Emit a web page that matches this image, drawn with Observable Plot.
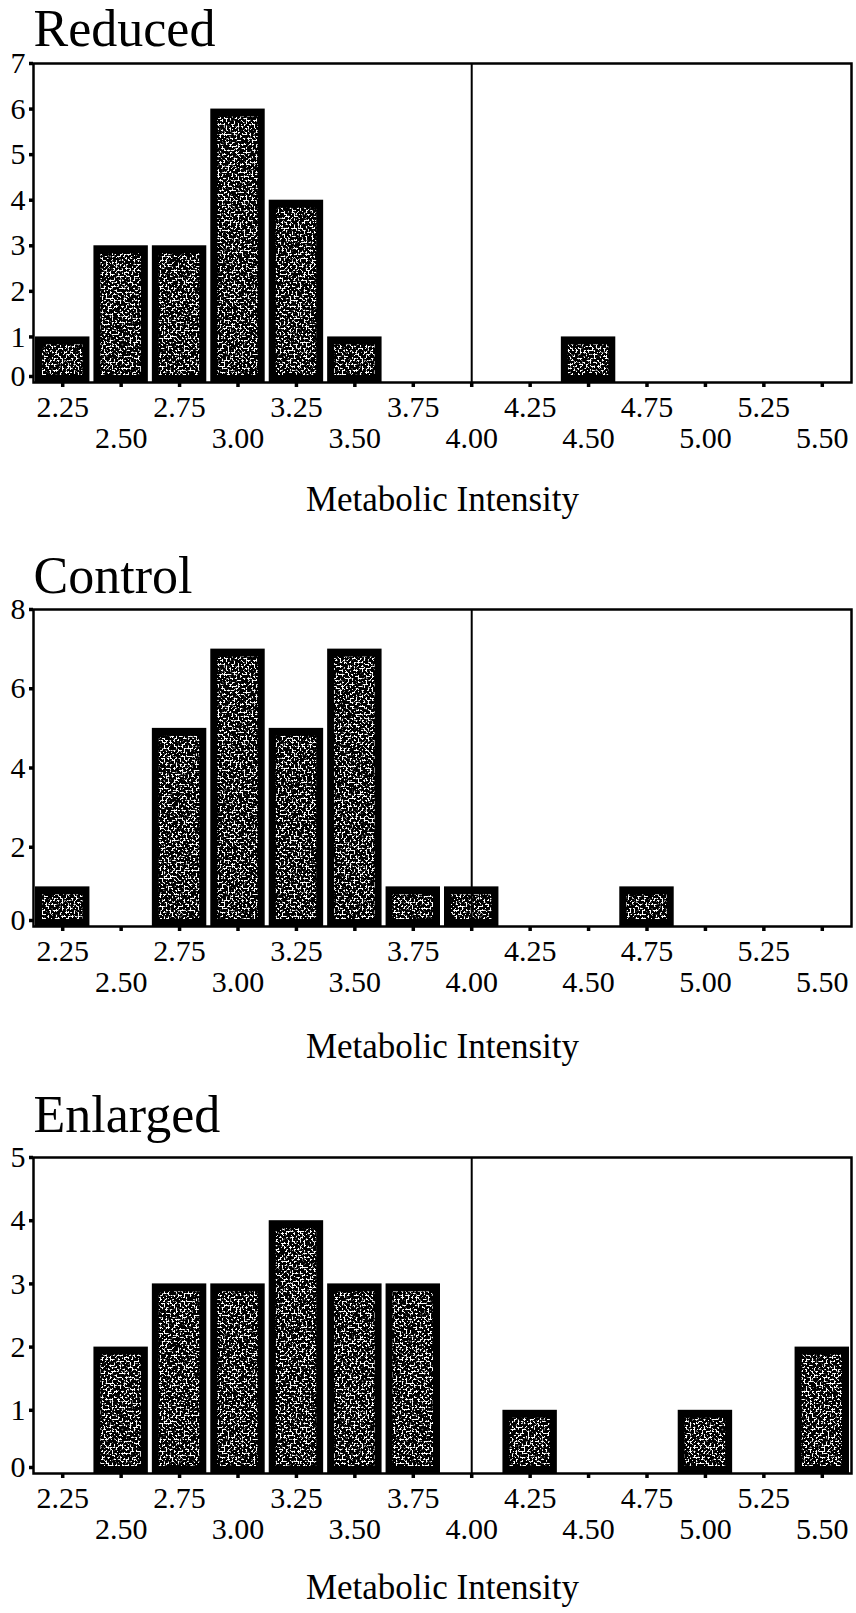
<!DOCTYPE html>
<html>
<head>
<meta charset="utf-8">
<script src="https://cdn.jsdelivr.net/npm/d3@7"></script>
<script src="https://cdn.jsdelivr.net/npm/@observablehq/plot@0.6"></script>
<style>
  body { margin: 0; background: #fff; width: 856px; }
  #chart svg { display: block; }
</style>
</head>
<body>
<svg width="0" height="0" style="position:absolute">
  <defs>
    <filter id="noise" x="0" y="0" width="100%" height="100%" color-interpolation-filters="sRGB">
      <feTurbulence type="fractalNoise" baseFrequency="0.5" numOctaves="2" seed="7" result="n"/>
      <feColorMatrix in="n" type="matrix" values="0 0 0 0 1  0 0 0 0 1  0 0 0 0 1  12 0 0 0 -6.1"/>
    </filter>
    <pattern id="speckle" patternUnits="userSpaceOnUse" width="300" height="300">
      <rect width="300" height="300" fill="#000"/>
      <rect width="300" height="300" fill="#fff" filter="url(#noise)"/>
    </pattern>
  </defs>
</svg>
<div id="chart"></div>
<script>
// Bin centres (also the x tick values)
const binCenters = [2.25, 2.50, 2.75, 3.00, 3.25, 3.50, 3.75, 4.00, 4.25, 4.50, 4.75, 5.00, 5.25, 5.50];
const upperRowTicks = [2.25, 2.75, 3.25, 3.75, 4.25, 4.75, 5.25];
const lowerRowTicks = [2.50, 3.00, 3.50, 4.00, 4.50, 5.00, 5.50];

// Counts per bin
const reducedCounts  = [1, 3, 3, 6, 4, 1, 0, 0, 0, 1, 0, 0, 0, 0];
const controlCounts  = [1, 0, 5, 7, 5, 7, 1, 1, 0, 0, 1, 0, 0, 0];
const enlargedCounts = [0, 2, 3, 3, 4, 3, 3, 0, 1, 0, 0, 1, 0, 2];

const panelTitles = ["Reduced", "Control", "Enlarged"];
const reducedYTicks  = [0, 1, 2, 3, 4, 5, 6, 7];
const controlYTicks  = [0, 2, 4, 6, 8];
const enlargedYTicks = [0, 1, 2, 3, 4, 5];
const xLabel = "Metabolic Intensity";
const dividerValue = 4.00;

const font = '"Liberation Serif", "Times New Roman", Times, serif';

const panels = [
  {title: panelTitles[0], counts: reducedCounts,  yMax: 7, yTicks: reducedYTicks,  height: 540, marginTop: 63, marginBottom: 158, titleGap: 18, labelGap: 128},
  {title: panelTitles[1], counts: controlCounts,  yMax: 8, yTicks: controlYTicks,  height: 545, marginTop: 69, marginBottom: 159, titleGap: 17, labelGap: 131},
  {title: panelTitles[2], counts: enlargedCounts, yMax: 5, yTicks: enlargedYTicks, height: 528, marginTop: 72, marginBottom: 140, titleGap: 26, labelGap: 125}
];

const fmt = d3.format(".2f");
const intFmt = d3.format("d");
const container = document.getElementById("chart");

for (const p of panels) {
  const data = binCenters.map((c, i) => ({c, n: p.counts[i]})).filter(d => d.n > 0);
  const x1 = d => d.c - 0.125;
  const x2 = d => d.c + 0.125;
  const chart = Plot.plot({
    width: 856,
    height: p.height,
    marginTop: p.marginTop,
    marginBottom: p.marginBottom,
    marginLeft: 33,
    marginRight: 5,
    style: {fontFamily: font, background: "white", color: "black", overflow: "visible"},
    x: {domain: [2.125, 5.625], label: null},
    y: {domain: [0, p.yMax], label: null},
    marks: [
      Plot.rect(data, {x1, x2, y1: 0, y2: "n", fill: "black", insetLeft: 2, insetRight: 2}),
      Plot.rect(data, {x1, x2, y1: 0, y2: "n", fill: "url(#speckle)", insetLeft: 9, insetRight: 9, insetTop: 8, insetBottom: 7}),
      Plot.ruleX([dividerValue], {stroke: "black", strokeWidth: 2}),
      Plot.frame({stroke: "black", strokeWidth: 2.5}),
      Plot.axisX(binCenters, {tickSize: 5, strokeWidth: 3.5, tickFormat: () => "", label: null}),
      Plot.axisX(upperRowTicks, {tickSize: 0, tickPadding: 13, tickFormat: fmt, fontSize: 30, label: null}),
      Plot.axisX(lowerRowTicks, {tickSize: 0, tickPadding: 44, tickFormat: fmt, fontSize: 30, label: null}),
      Plot.axisY(p.yTicks.filter(v => v > 0), {tickSize: 4, tickPadding: 4, strokeWidth: 3.5, fontSize: 30, tickFormat: intFmt, label: null}),
      Plot.axisY([0], {tickSize: 4, tickPadding: 4, strokeWidth: 3.5, fontSize: 30, tickFormat: intFmt, dy: -6, label: null}),
      Plot.text([p.title], {frameAnchor: "top-left", textAnchor: "start", lineAnchor: "bottom", dy: -p.titleGap, fontSize: 52, fill: "black"}),
      Plot.text([xLabel], {frameAnchor: "bottom", lineAnchor: "bottom", dy: p.labelGap, fontSize: 35, fill: "black"})
    ]
  });
  container.appendChild(chart);
}
</script>
</body>
</html>
